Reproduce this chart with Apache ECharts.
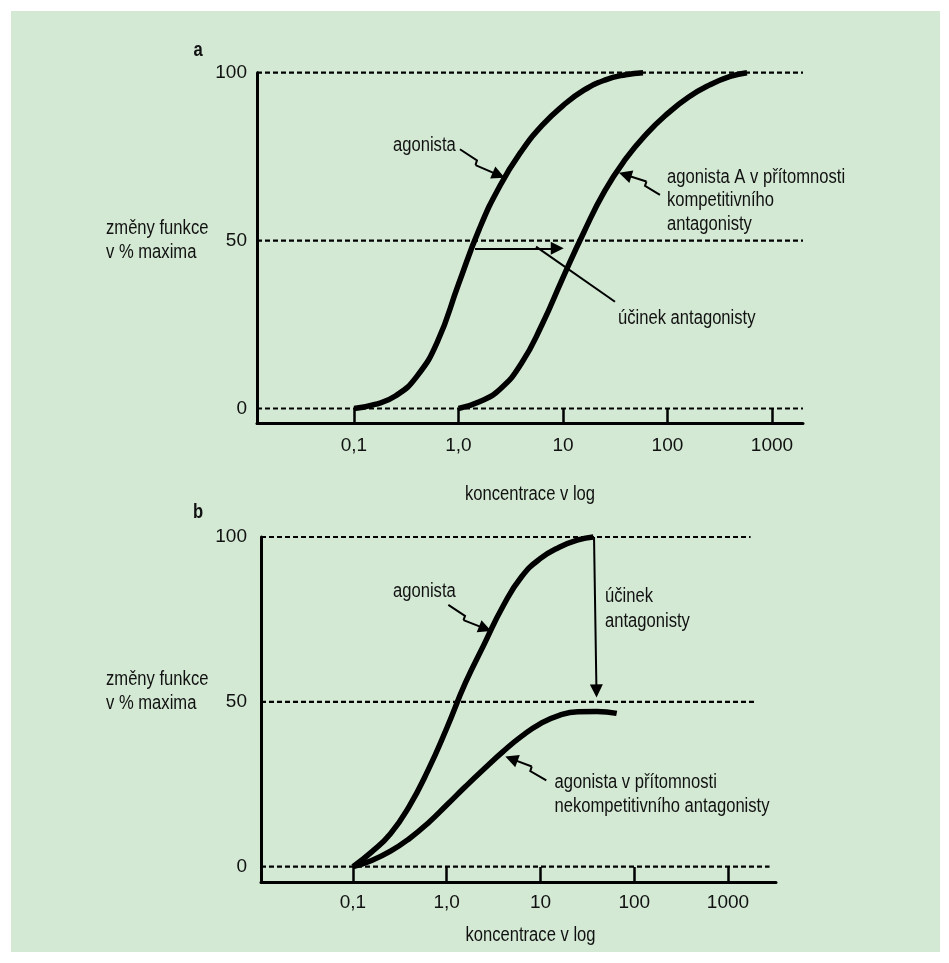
<!DOCTYPE html>
<html>
<head>
<meta charset="utf-8">
<script src="https://cdn.jsdelivr.net/npm/echarts@6/dist/echarts.min.js"></script>
<style>
html,body{margin:0;padding:0;background:#ffffff;}
#panel{position:absolute;left:11px;top:11px;width:929px;height:941px;background:#d3e9d4;}
#chart{position:absolute;left:0;top:0;width:949px;height:963px;}
</style>
</head>
<body>
<div id="panel"></div>
<div id="chart"></div>
<script>
// ---- data (x = log10 concentration, y = % of maximum) ----
const tickLogs = [-1, 0, 1, 2, 3];
const tickLabels = ['0,1', '1,0', '10', '100', '1000'];
const yTicks = [0, 50, 100];
const refLevels = [0, 50, 100];

// panel a
const agonistA_log = [-1, -0.8, -0.6, -0.4, -0.2, 0, 0.2, 0.4, 0.6, 0.8, 1.0, 1.2, 1.4, 1.6, 1.766];
const agonistA_pct = [0, 1.2, 3.8, 9.5, 20, 37, 53.5, 66.5, 76.5, 84.3, 90.2, 94.8, 97.8, 99.4, 100];
const competitive_log = [0, 0.2, 0.4, 0.6, 0.8, 1.0, 1.2, 1.4, 1.6, 1.8, 2.0, 2.2, 2.4, 2.6, 2.761];
const competitive_pct = [0, 2.0, 5.8, 13.3, 25, 39, 52.5, 64.8, 74.3, 81.8, 87.8, 92.7, 96.3, 98.9, 100];
const refEndA = [3.297, 3.297, 3.297];

// panel b
const agonistB_log = [-1, -0.8, -0.6, -0.4, -0.2, 0, 0.2, 0.4, 0.6, 0.8, 1.0, 1.2, 1.4, 1.563];
const agonistB_pct = [0, 4.5, 10.0, 18.3, 29.2, 42, 55.8, 67.5, 79, 88, 93.5, 96.9, 99.1, 100];
const noncomp_log = [-1, -0.8, -0.6, -0.4, -0.2, 0, 0.2, 0.4, 0.6, 0.8, 1.0, 1.2, 1.4, 1.6, 1.813];
const noncomp_pct = [0, 1.9, 4.7, 8.5, 13.2, 18.7, 24.3, 29.7, 34.9, 39.6, 43.4, 45.9, 47.0, 47.1, 46.5];
const refEndB = [3.443, 3.306, 3.241];

// annotation arrows (data coordinates)
const arrowBodiesA = [
  [[0.014, 77.2], [0.177, 73.9], [0.163, 72.5]],
  [[1.928, 63.6], [1.785, 66.3], [1.799, 67.6]],
  [[0.742, 48.2], [1.498, 31.8]]
];
const arrowHeadsA = [
  [[0.163, 72.5], [0.385, 69.5]],
  [[1.799, 67.6], [1.595, 69.6]],
  [[0.158, 47.7], [0.945, 47.7]]
];
const arrowBodiesB = [
  [[0.017, 79.4], [0.195, 76.1], [0.179, 74.8]],
  [[1.062, 26.2], [0.891, 29.0], [0.907, 30.4]]
];
const arrowHeadsB = [
  [[0.179, 74.8], [0.41, 72.2]],
  [[1.571, 100], [1.597, 53.3]],
  [[0.907, 30.4], [0.69, 32.7]]
];

// ---- building ----
const FONT = "'Liberation Sans', Arial, sans-serif";
const INK = '#111';
const TXT_SCALE = 0.83;
function pairs(xs, ys) { return xs.map((x, i) => [x, ys[i]]); }

function xAxisFor(grid, min, max, margin) {
  return {
    type: 'value', gridIndex: grid, min: min, max: max,
    axisLine: { show: true, onZero: false, lineStyle: { color: '#000', width: 3 } },
    axisTick: { show: true, inside: true, length: 15, customValues: tickLogs, lineStyle: { color: '#000', width: 2.5 } },
    axisLabel: {
      customValues: tickLogs, margin: margin, fontFamily: FONT, fontSize: 19, color: INK,
      formatter: function (v) { const i = tickLogs.findIndex(t => Math.abs(t - v) < 1e-6); return i >= 0 ? tickLabels[i] : ''; }
    },
    splitLine: { show: false }
  };
}
function yAxisFor(grid, min, margin) {
  return {
    type: 'value', gridIndex: grid, min: min, max: 100,
    axisLine: { show: true, onZero: false, lineStyle: { color: '#000', width: 3 } },
    axisTick: { show: false },
    axisLabel: { customValues: yTicks, margin: margin, fontFamily: FONT, fontSize: 19, color: INK },
    splitLine: { show: false }
  };
}
function refLine(grid, level, xStart, xEnd) {
  return {
    type: 'line', xAxisIndex: grid, yAxisIndex: grid, data: [[xStart, level], [xEnd, level]],
    symbol: 'none', clip: false, silent: true, z: 1,
    lineStyle: { color: '#000', width: 2.2, type: [5, 3] }
  };
}
function curve(grid, xs, ys) {
  return {
    type: 'line', xAxisIndex: grid, yAxisIndex: grid, data: pairs(xs, ys),
    smooth: 0.5, symbol: 'none', clip: false, silent: true, z: 3,
    lineStyle: { color: '#000', width: 5.5 }
  };
}
function bodies(grid, list) {
  return {
    type: 'lines', coordinateSystem: 'cartesian2d', xAxisIndex: grid, yAxisIndex: grid,
    polyline: true, silent: true, z: 4, color: '#000',
    data: list.map(c => ({ coords: c })),
    lineStyle: { color: '#000', width: 2, opacity: 1, curveness: 0 }
  };
}
function heads(grid, list) {
  return {
    type: 'lines', coordinateSystem: 'cartesian2d', xAxisIndex: grid, yAxisIndex: grid,
    silent: true, z: 4, color: '#000', symbol: ['none', 'triangle'], symbolSize: 13,
    data: list.map(c => ({ coords: c })),
    itemStyle: { color: '#000' },
    lineStyle: { color: '#000', width: 2, opacity: 1, curveness: 0 }
  };
}
function txt(text, x, y, opts) {
  opts = opts || {};
  return {
    type: 'text', x: x, y: y, silent: true, scaleX: TXT_SCALE, scaleY: 1,
    style: {
      text: text, fontFamily: FONT, fontSize: opts.size || 20, fontWeight: opts.bold ? 'bold' : 'normal',
      fill: INK, align: opts.align || 'left', verticalAlign: 'middle', lineHeight: opts.lh || 24
    }
  };
}

const xMinA = -1.928, xMaxA = 3.297, xMinB = -1.981, xMaxB = 3.512;

const series = [];
refLevels.forEach((lv, i) => series.push(refLine(0, lv, xMinA, refEndA[i])));
refLevels.forEach((lv, i) => series.push(refLine(1, lv, xMinB, refEndB[i])));
series.push(curve(0, agonistA_log, agonistA_pct));
series.push(curve(0, competitive_log, competitive_pct));
series.push(curve(1, agonistB_log, agonistB_pct));
series.push(curve(1, noncomp_log, noncomp_pct));
series.push(bodies(0, arrowBodiesA));
series.push(heads(0, arrowHeadsA));
series.push(bodies(1, arrowBodiesB));
series.push(heads(1, arrowHeadsB));

const option = {
  animation: false,
  backgroundColor: 'transparent',
  grid: [
    { left: 257, top: 72.7, width: 546, height: 350.8, containLabel: false },
    { left: 261, top: 537, width: 515, height: 345, containLabel: false }
  ],
  xAxis: [xAxisFor(0, xMinA, xMaxA, 13), xAxisFor(1, xMinB, xMaxB, 11)],
  yAxis: [yAxisFor(0, -4.47, 10), yAxisFor(1, -4.64, 14)],
  series: series,
  graphic: [
    txt('a', 198, 50, { bold: true, align: 'center' }),
    txt('změny funkce\nv % maxima', 106, 240),
    txt('agonista', 393, 145),
    txt('agonista A v přítomnosti\nkompetitivního\nantagonisty', 667, 200.5, { lh: 23.5 }),
    txt('účinek antagonisty', 618, 318),
    txt('koncentrace v log', 530, 494, { align: 'center' }),
    txt('b', 198, 512, { bold: true, align: 'center' }),
    txt('změny funkce\nv % maxima', 106, 691.7, { lh: 23.5 }),
    txt('agonista', 393, 591.7),
    txt('účinek\nantagonisty', 605, 609, { lh: 25 }),
    txt('agonista v přítomnosti\nnekompetitivního antagonisty', 554.5, 794),
    txt('koncentrace v log', 530.5, 935, { align: 'center' })
  ]
};
const chart = echarts.init(document.getElementById('chart'));
chart.setOption(option);
</script>
</body>
</html>
